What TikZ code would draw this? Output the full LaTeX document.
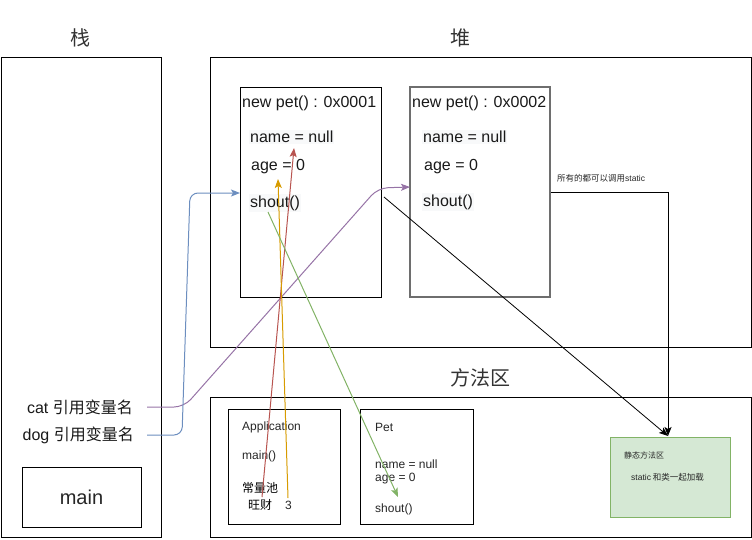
\documentclass[tikz,border=0pt]{standalone}
\usepackage{fontspec}
\setmainfont{Liberation Sans}
\newfontfamily\cjk{Noto Sans CJK SC}
\usetikzlibrary{arrows.meta}
\definecolor{cpurple}{HTML}{9673A6}
\definecolor{cblue}{HTML}{6C8EBF}
\definecolor{cred}{HTML}{B85450}
\definecolor{corange}{HTML}{D79B00}
\definecolor{cgreen}{HTML}{82B366}
\definecolor{cgreenfill}{HTML}{D5E8D4}
\definecolor{cbg}{HTML}{F8F9FA}
\definecolor{cgrayb}{HTML}{6E6E6E}
\tikzset{
  box/.style={draw=black, line width=1pt, inner sep=0pt},
  objbox/.style={box},
  objboxb/.style={draw=cgrayb, line width=1.5pt, inner sep=0pt},
  title/.style={font=\cjk\fontsize{20}{24}\selectfont, text=black!80, inner sep=0pt},
  big/.style={font=\fontsize{16}{19}\selectfont, inner sep=0pt, anchor=west, text=black!90},
  bigbg/.style={big, fill=cbg, inner xsep=1pt, inner ysep=1.5pt},
  small/.style={font=\fontsize{12}{14}\selectfont, inner sep=0pt, anchor=west, text=black!85},
  tiny/.style={font=\fontsize{8.5}{10}\selectfont, inner sep=0pt, anchor=west, text=black!85},
  conn/.style={line width=1pt, -{Stealth[length=9pt,width=7pt,inset=2pt]}},
  thinconn/.style={line width=0.8pt, -{Stealth[length=9pt,width=7pt,inset=2pt]}}
}
\begin{document}
\begin{tikzpicture}[x=1pt,y=-1pt]
\useasboundingbox (0,0) rectangle (752,539);
% areas
\node[box, minimum width=160, minimum height=480] (stack) at (81,297) {};
\node[box, minimum width=541, minimum height=290] (heap) at (480.5,202) {};
\node[box, minimum width=541, minimum height=140] (method) at (480.5,467) {};
\node[title] (tstack) at (80,38) {栈};
\node[title] (theap) at (460,38) {堆};
\node[title] (tmethod) at (480,378) {方法区};
% stack contents
\node[box, minimum width=119, minimum height=60, font=\fontsize{20}{24}\selectfont, text=black!85] (main) at (81.5,497) {main};
\node[big, anchor=east] (cat) at (133,407) {cat {\cjk 引用变量名}};
\node[big, anchor=east] (dog) at (134,435) {dog {\cjk 引用变量名}};
% heap objects
\node[objbox, minimum width=141, minimum height=210] (obj1) at (310.5,192) {};
\node[objboxb, minimum width=140, minimum height=210] (obj2) at (480,192) {};
\node[big] (o1t) at (242,103) {new pet() : 0x0001};
\node[bigbg] (o1n) at (249,137) {name = null};
\node[big] (o1a) at (251,167) {age = 0};
\node[bigbg] (o1s) at (249,203) {shout()};
\node[big] (o2t) at (412,103) {new pet() : 0x0002};
\node[bigbg] (o2n) at (422,137) {name = null};
\node[big] (o2a) at (424,167) {age = 0};
\node[bigbg] (o2s) at (422,202) {shout()};
\node[tiny, font=\cjk\fontsize{8.5}{10}\selectfont] (note) at (557,178) {所有的都可以调用{\fontspec{Liberation Sans}static}};
% method area
\node[box, minimum width=112, minimum height=115] (app) at (284,466.5) {};
\node[box, minimum width=113, minimum height=115] (pet) at (416.5,466.5) {};
\node[small] (appt) at (242,427) {Application};
\node[small] (appm) at (242,456) {main()};
\node[small, font=\cjk\fontsize{12}{14}\selectfont, text=black] (pool) at (242,488) {常量池};
\node[small, font=\cjk\fontsize{12}{14}\selectfont, text=black] (wc) at (248,505) {旺财};
\node[small] (three) at (285,505) {3};
\node[small] (pett) at (375,427) {Pet};
\node[small] (petn) at (375,464) {name = null};
\node[small] (peta) at (375,479) {age = 0};
\node[small] (pets) at (375,509) {shout()};
\node[draw=cgreen, fill=cgreenfill, line width=1pt, minimum width=120, minimum height=80, inner sep=0pt] (static) at (670,477) {};
\node[tiny, font=\cjk\fontsize{8}{10}\selectfont] (st1) at (624,455) {静态方法区};
\node[tiny, font=\cjk\fontsize{8.5}{10}\selectfont] (st2) at (631,477) {{\fontspec{Liberation Sans}static} 和类一起加载};
% coordinates
\coordinate (catend) at (147,407);
\coordinate (dogend) at (147,435);
\coordinate (o2in) at (410,187);
\coordinate (o1in) at (240,193);
\coordinate (redA) at (262,497);
\coordinate (redB) at (294,148);
\coordinate (orA) at (288,498);
\coordinate (orB) at (278,179);
\coordinate (grA) at (268,212);
\coordinate (grB) at (398,497);
\coordinate (bkA) at (384,197);
\coordinate (bkB) at (551,192);
\coordinate (sttop) at (668,436);
% connectors
\draw[conn, cpurple, rounded corners=10] (catend) -- (184,407) -- (378,188) -- (o2in);
\draw[conn, cblue, rounded corners=8] (dogend) -- (182,435) -- (190,193) -- (o1in);
\draw[conn, cred] (redA) -- (redB);
\draw[conn, corange] (orA) -- (orB);
\draw[conn, cgreen] (grA) -- (grB);
\draw[thinconn, black] (bkA) -- (sttop);
\draw[conn, black] (bkB) -- (668,192) -- (sttop);
\end{tikzpicture}
\end{document}
